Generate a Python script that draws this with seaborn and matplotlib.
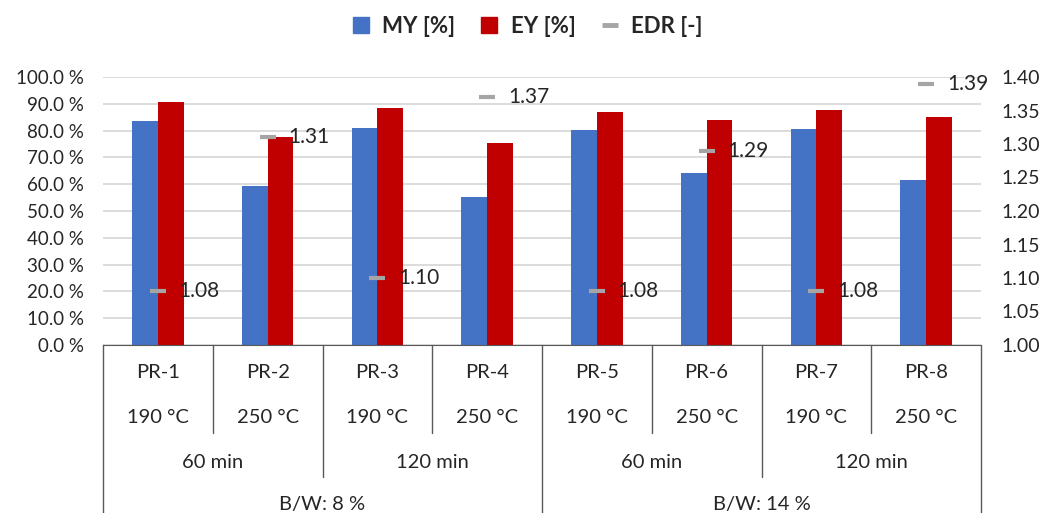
import numpy as np
import pandas as pd
import matplotlib.pyplot as plt
import matplotlib.transforms as mtransforms
from matplotlib.lines import Line2D
import seaborn as sns

# data
runs = ["PR-1", "PR-2", "PR-3", "PR-4", "PR-5", "PR-6", "PR-7", "PR-8"]
temps = ["190 °C", "250 °C", "190 °C", "250 °C", "190 °C", "250 °C", "190 °C", "250 °C"]
times = ["60 min", "120 min", "60 min", "120 min"]
ratios = ["B/W: 8 %", "B/W: 14 %"]
my = [83.5, 59.3, 80.8, 55.3, 80.3, 64.1, 80.7, 61.6]
ey = [90.5, 77.5, 88.3, 75.4, 87.1, 83.8, 87.6, 85.2]
edr = [1.08, 1.31, 1.10, 1.37, 1.08, 1.29, 1.08, 1.39]

blue, red, grey = "#4472C4", "#C00000", "#A5A5A5"
txt = "#262626"

df = pd.DataFrame({
    "run": runs * 2,
    "value": my + ey,
    "series": ["MY [%]"] * len(runs) + ["EY [%]"] * len(runs),
})

sns.set_style("white")
plt.rcParams["font.family"] = ["Lato", "DejaVu Sans"]

fig = plt.figure(figsize=(10.45, 5.13), dpi=100)
ax = fig.add_axes([103 / 1045, 1 - 345 / 513, 878 / 1045, 268 / 513])

sns.barplot(data=df, x="run", y="value", hue="series", palette=[blue, red],
            width=0.47, saturation=1, legend=False, linewidth=0, ax=ax)
ax.set_xlim(-0.5, len(runs) - 0.5)
ax.set_ylim(0, 100)
ax.set_yticks(np.arange(0, 101, 10))
ax.set_yticklabels([f"{v:.1f} %" for v in np.arange(0, 101, 10)])
ax.yaxis.grid(True, color="#D9D9D9", lw=1.3)
ax.set_axisbelow(True)
ax.set_xlabel("")
ax.set_ylabel("")
ax.tick_params(axis="x", labelbottom=False, length=0)
ax.tick_params(axis="y", length=0, labelsize=13.5, labelcolor=txt, pad=14)
for s in ["left", "right", "top"]:
    ax.spines[s].set_visible(False)
ax.spines["bottom"].set_color("#595959")

# secondary axis for EDR
ax2 = ax.twinx()
sns.scatterplot(x=np.arange(len(runs)), y=edr, marker="_", s=120, linewidth=3,
                color=grey, ax=ax2, zorder=5)
ax2.set_ylim(1.0, 1.4)
ax2.set_yticks(np.arange(1.0, 1.401, 0.05))
ax2.set_yticklabels([f"{v:.2f}" for v in np.arange(1.0, 1.401, 0.05)])
ax2.tick_params(axis="y", length=0, labelsize=14, labelcolor=txt, pad=15)
for s in ["left", "right", "top", "bottom"]:
    ax2.spines[s].set_visible(False)
for i, v in enumerate(edr):
    ax2.annotate(f"{v:.2f}", (i, v), xytext=(15, 0), textcoords="offset points",
                 ha="left", va="center", fontsize=15, color=txt)

# multi-level category axis
trans = mtransforms.blended_transform_factory(ax.transData, ax.transAxes)
for b in range(len(runs) + 1):
    if b % 4 == 0:
        y = -0.7
    elif b % 2 == 0:
        y = -0.493
    else:
        y = -0.328
    ax.plot([b - 0.5, b - 0.5], [0, y], transform=trans, clip_on=False,
            color="#595959", lw=1)
fs = 14.5
for i, (r, t) in enumerate(zip(runs, temps)):
    ax.text(i, -0.104, r, transform=trans, ha="center", va="center", fontsize=fs, color=txt)
    ax.text(i, -0.272, t, transform=trans, ha="center", va="center", fontsize=fs, color=txt)
for k, t in enumerate(times):
    ax.text(2 * k + 0.5, -0.437, t, transform=trans, ha="center", va="center", fontsize=fs, color=txt)
for k, t in enumerate(ratios):
    ax.text(4 * k + 1.5, -0.597, t, transform=trans, ha="center", va="center", fontsize=fs, color=txt)

handles = [
    Line2D([], [], marker="s", ls="none", color=blue, markersize=11),
    Line2D([], [], marker="s", ls="none", color=red, markersize=11),
    Line2D([], [], marker="_", ls="none", color=grey, markersize=12, mew=3.5),
]
fig.legend(handles, ["MY [%]", "EY [%]", "EDR [-]"], loc="center", ncol=3,
           bbox_to_anchor=(0.504, 0.948), frameon=False, handlelength=0.9,
           handletextpad=0.5, columnspacing=1.1,
           prop={"weight": "bold", "size": 16})

fig.savefig("out.png", dpi=100)
